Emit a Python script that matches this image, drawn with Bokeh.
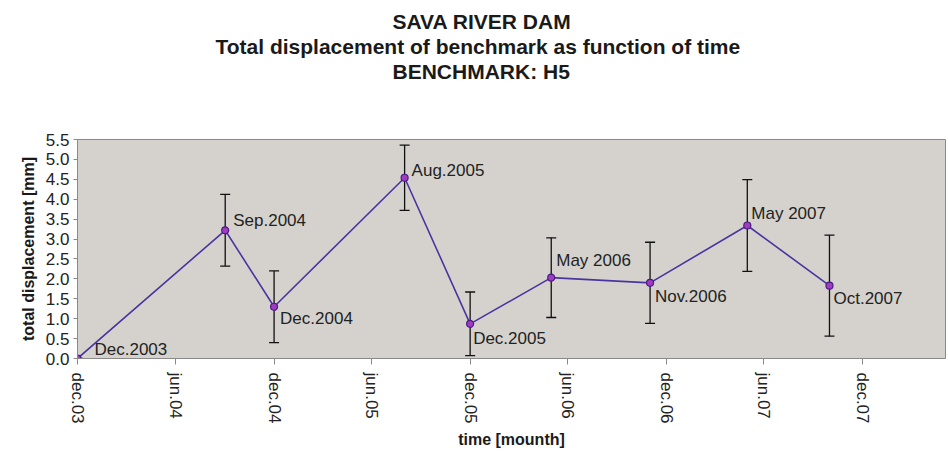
import math
import pandas as pd
from bokeh.plotting import figure
from bokeh.models import (ColumnDataSource, Range1d, FixedTicker, NumeralTickFormatter,
                          Whisker, TeeHead, Title)
from bokeh.core.properties import value
from bokeh.embed import file_html
from bokeh.resources import INLINE

# ---- data ----
dates = ["2003-12-01", "2004-09-01", "2004-12-01", "2005-08-01", "2005-12-01",
         "2006-05-01", "2006-11-01", "2007-05-01", "2007-10-01"]
displacement = [0.0, 3.22, 1.30, 4.54, 0.87, 2.03, 1.90, 3.34, 1.83]
error = [0.0, 0.90, 0.90, 0.82, 0.80, 1.00, 1.02, 1.15, 1.27]
point_labels = ["Dec.2003", "Sep.2004", "Dec.2004", "Aug.2005", "Dec.2005",
                "May 2006", "Nov.2006", "May 2007", "Oct.2007"]
tick_dates = ["2003-12-01", "2004-06-01", "2004-12-01", "2005-06-01", "2005-12-01",
              "2006-06-01", "2006-12-01", "2007-06-01", "2007-12-01"]
tick_labels = ["dec.03", "jun.04", "dec.04", "jun.05", "dec.05",
               "jun.06", "dec.06", "jun.07", "dec.07"]
y_ticks = [0.0, 0.5, 1.0, 1.5, 2.0, 2.5, 3.0, 3.5, 4.0, 4.5, 5.0, 5.5]
title_lines = ["SAVA RIVER DAM",
               "Total displacement of benchmark as function of time",
               "BENCHMARK: H5"]

# ---- label placement (style, pixels) ----
label_dx = [17, 8, 6, 7, 3, 5, 5, 4, 4]
label_dy = [-9, -10, 12, -7, 15, -17, 14, -12, 13]   # positive = downwards
title_offsets = [315, 138, 315]

FONT = "Liberation Sans"

dt = pd.to_datetime(dates)
src = ColumnDataSource(dict(
    date=dt,
    value=displacement,
    upper=[v + e for v, e in zip(displacement, error)],
    lower=[v - e for v, e in zip(displacement, error)],
    label=point_labels,
    dx=label_dx,
    dy=label_dy,
))

x_start = pd.Timestamp("2003-12-01")
x_end = x_start + pd.Timedelta(days=1616)

p = figure(width=946, height=450, output_backend="svg", toolbar_location=None,
           x_axis_type="datetime",
           x_range=Range1d(x_start, x_end), y_range=Range1d(0, 5.5),
           min_border_left=77, min_border_right=1, min_border_top=139,
           min_border_bottom=92)
p.title = None
p.background_fill_color = "#d5d2ce"
p.border_fill_color = "white"
p.outline_line_color = "#8a8a8a"
p.outline_line_width = 1
p.xgrid.visible = False
p.ygrid.visible = False

# spacer between title block and plot area
p.add_layout(Title(text=" ", standoff=32, text_font=FONT, text_font_size="21px"), "above")
# title: three lines, the one nearest the plot added first
for txt, off in reversed(list(zip(title_lines, title_offsets))):
    p.add_layout(Title(text=txt, align="left", offset=off, standoff=0,
                       text_font=FONT, text_font_size="21px",
                       text_font_style="bold", text_color="#1a1a1a"), "above")

# error bars
wh = Whisker(base="date", upper="upper", lower="lower", source=src, dimension="height",
             line_color="#111111", line_width=1.3,
             upper_head=TeeHead(size=10, line_color="#111111", line_width=1.3),
             lower_head=TeeHead(size=10, line_color="#111111", line_width=1.3))
p.add_layout(wh)

p.line("date", "value", source=src, line_color="#4a35a0", line_width=1.6)
p.scatter("date", "value", source=src, marker="circle", size=7,
          fill_color="#a03cc0", line_color="#4b1a86", line_width=1.2)

p.text("date", "value", text="label", source=src, x_offset="dx", y_offset="dy",
       text_font=value(FONT), text_font_size="17px", text_color="#222222",
       text_align="left", text_baseline="middle")

# axes
xa = p.xaxis[0]
tick_ms = [float(t.value // 10**6) for t in pd.to_datetime(tick_dates)]
xa.ticker = FixedTicker(ticks=tick_ms)
xa.major_label_overrides = {m: l for m, l in zip(tick_ms, tick_labels)}
xa.major_label_orientation = -math.pi / 2
xa.major_label_text_font = FONT
xa.major_label_text_font_size = "17px"
xa.major_label_text_color = "#222222"
xa.major_label_standoff = 8
xa.major_tick_out = 6
xa.major_tick_in = 0
xa.minor_tick_out = 0
xa.minor_tick_in = 0
xa.major_tick_line_color = "#8a8a8a"
xa.axis_line_color = "#8a8a8a"
xa.axis_label = "time [mounth]"
xa.axis_label_text_font = FONT
xa.axis_label_text_font_size = "16px"
xa.axis_label_text_font_style = "bold"
xa.axis_label_text_color = "#1a1a1a"
xa.axis_label_standoff = 4

ya = p.yaxis[0]
ya.ticker = FixedTicker(ticks=y_ticks)
ya.formatter = NumeralTickFormatter(format="0.0")
ya.major_label_text_font = FONT
ya.major_label_text_font_size = "17px"
ya.major_label_text_color = "#222222"
ya.major_label_standoff = 4
ya.major_tick_out = 4
ya.major_tick_in = 0
ya.minor_tick_out = 0
ya.minor_tick_in = 0
ya.major_tick_line_color = "#8a8a8a"
ya.axis_line_color = "#8a8a8a"
ya.axis_label = "total displacement [mm]"
ya.axis_label_text_font = FONT
ya.axis_label_text_font_size = "16px"
ya.axis_label_text_font_style = "bold"
ya.axis_label_text_color = "#1a1a1a"
ya.axis_label_standoff = 6

open("out.html", "w").write(file_html(p, INLINE))
